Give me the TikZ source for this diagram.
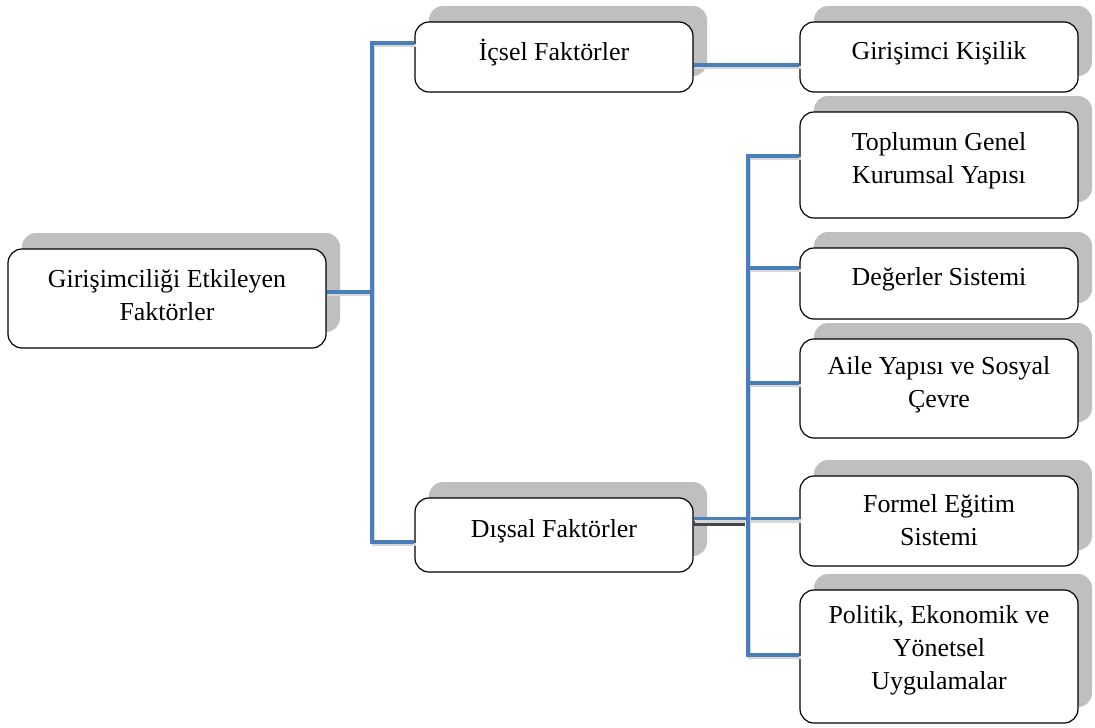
\documentclass[tikz,border=0pt]{standalone}
\usepackage{fontspec}
\setmainfont{Liberation Serif}
\usetikzlibrary{shadows}
\definecolor{linkblue}{HTML}{4A7EBB}
\definecolor{shadegray}{HTML}{BFBFBF}
\begin{document}
\begin{tikzpicture}[x=1pt,y=-1pt,
  card/.style={draw=black, line width=1.2pt, fill=white, rounded corners=14pt,
    inner sep=0pt,
    general shadow={fill=shadegray, shadow xshift=14pt, shadow yshift=16pt}},
  caption/.style={font=\fontsize{25.9}{33}\selectfont, align=center, inner sep=0pt},
  link/.style={draw=linkblue, line width=3.4pt,
    preaction={draw=black!16, line width=3.4pt, transform canvas={shift={(1.5pt,-2.5pt)}}}}
]
\useasboundingbox (0,0) rectangle (1095,728);

% boxes
\node[card, minimum width=318pt, minimum height=99pt]  (root) at (167,298.5) {};
\node[card, minimum width=278pt, minimum height=70pt]  (icsel) at (554,57) {};
\node[card, minimum width=278pt, minimum height=74pt]  (dis) at (554,535) {};
\node[card, minimum width=278pt, minimum height=70pt]  (gir) at (939,57) {};
\node[card, minimum width=278pt, minimum height=106pt] (top) at (939,165) {};
\node[card, minimum width=278pt, minimum height=71pt]  (deg) at (939,283.5) {};
\node[card, minimum width=278pt, minimum height=99pt]  (aile) at (939,388.5) {};
\node[card, minimum width=278pt, minimum height=90pt]  (form) at (939,521) {};
\node[card, minimum width=278pt, minimum height=133pt] (pol) at (939,656.5) {};

% texts
\node[caption] (root-t) at ([yshift=3pt]root.center) {Girişimciliği Etkileyen\\Faktörler};
\node[caption] (icsel-t) at ([yshift=4pt]icsel.center) {İçsel Faktörler};
\node[caption] (dis-t) at ([yshift=4pt]dis.center) {Dışsal Faktörler};
\node[caption] (gir-t) at ([yshift=4pt]gir.center) {Girişimci Kişilik};
\node[caption] (top-t) at ([yshift=4pt]top.center) {Toplumun Genel\\Kurumsal Yapısı};
\node[caption] (deg-t) at ([yshift=4pt]deg.center) {Değerler Sistemi};
\node[caption] (aile-t) at ([yshift=4pt]aile.center) {Aile Yapısı ve Sosyal\\Çevre};
\node[caption] (form-t) at ([yshift=1pt]form.center) {Formel Eğitim\\Sistemi};
\node[caption] (pol-t) at ([yshift=6pt]pol.center) {Politik, Ekonomik ve\\Yönetsel\\Uygulamalar};

% junction points
\coordinate (la) at (372,43);
\coordinate (lm) at (372,292);
\coordinate (lb) at (372,542);
\coordinate (ig) at (748,65);
\coordinate (r1) at (748,156);
\coordinate (r2) at (748,268);
\coordinate (r3) at (748,383);
\coordinate (r4) at (748,518.5);
\coordinate (r5) at (748,655);
\coordinate (r4d) at (745,523.5);

% connectors
\draw[link] (root.east |- lm) -- (lm);
\draw[link] (icsel.west |- la) -- (la) -- (lb) -- (dis.west |- lb);
\draw[link] (icsel.east |- ig) -- (gir.west |- ig);
\draw[draw=black!72, line width=5pt] (dis.east |- r4d) -- (r4d);
\draw[link] (dis.east |- r4) -- (form.west |- r4);
\draw[link] (top.west |- r1) -- (r1) -- (r5) -- (pol.west |- r5);
\draw[link] (r2) -- (deg.west |- r2);
\draw[link] (r3) -- (aile.west |- r3);
\end{tikzpicture}
\end{document}
